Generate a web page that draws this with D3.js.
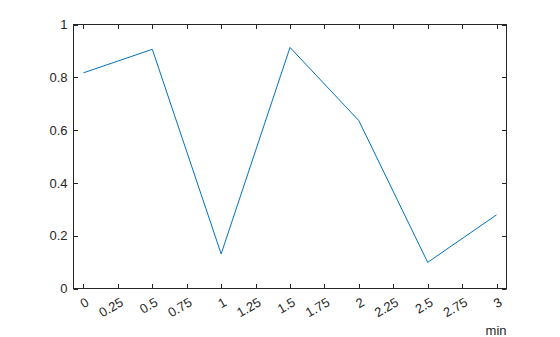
<!DOCTYPE html>
<html>
<head>
<meta charset="utf-8">
<script src="https://cdn.jsdelivr.net/npm/d3@7"></script>
<style>
  body { margin: 0; background: #fff; }
  svg { display: block; }
  text { font-family: "Liberation Sans", Helvetica, Arial, sans-serif; fill: #262626; }
</style>
</head>
<body>
<svg id="chart" width="560" height="337"></svg>
<script>
// data
var times = [0, 0.5, 1, 1.5, 2, 2.5, 3]
var values = [0.817, 0.906, 0.131, 0.913, 0.636, 0.099, 0.279]
var xTicks = [0, 0.25, 0.5, 0.75, 1, 1.25, 1.5, 1.75, 2, 2.25, 2.5, 2.75, 3]
var yTicks = [0, 0.2, 0.4, 0.6, 0.8, 1]
var xLabel = "min"

var svg = d3.select("#chart")

// note: "top" is taken by window.top, so use other names
var axLeft = 73.5, axRight = 506.5, axTop = 24.5, axBottom = 288.5
var tickLen = 4.5

// x limits are padded a little past 0 and 3, like the reference
var scaleX = d3.scaleLinear()
              .domain([-0.0725, 3.0725])
              .range([axLeft, axRight])

var scaleY = d3.scaleLinear()
              .domain([0, 1])
              .range([axBottom, axTop])

var g = svg.append("g")

// plot line
var line = d3.line()
            .x((d, i) => scaleX(times[i]))
            .y(d => scaleY(d))

g.append("path")
  .datum(values)
  .attr("d", line)
  .attr("fill", "none")
  .attr("stroke", "#0072BD")
  .attr("stroke-width", 1)

// tick marks, inward on all four sides
var ticks = g.append("g").attr("stroke", "#262626").attr("stroke-width", 1)

ticks.selectAll(".xb").data(xTicks).enter().append("line")
  .attr("x1", d => Math.round(scaleX(d)) + 0.5).attr("x2", d => Math.round(scaleX(d)) + 0.5)
  .attr("y1", axBottom).attr("y2", axBottom - tickLen)
ticks.selectAll(".xt").data(xTicks).enter().append("line")
  .attr("x1", d => Math.round(scaleX(d)) + 0.5).attr("x2", d => Math.round(scaleX(d)) + 0.5)
  .attr("y1", axTop).attr("y2", axTop + tickLen)
ticks.selectAll(".yl").data(yTicks).enter().append("line")
  .attr("y1", d => Math.round(scaleY(d)) + 0.5).attr("y2", d => Math.round(scaleY(d)) + 0.5)
  .attr("x1", axLeft).attr("x2", axLeft + tickLen)
ticks.selectAll(".yr").data(yTicks).enter().append("line")
  .attr("y1", d => Math.round(scaleY(d)) + 0.5).attr("y2", d => Math.round(scaleY(d)) + 0.5)
  .attr("x1", axRight).attr("x2", axRight - tickLen)

// box
g.append("rect")
  .attr("x", axLeft).attr("y", axTop)
  .attr("width", axRight - axLeft).attr("height", axBottom - axTop)
  .attr("fill", "none")
  .attr("stroke", "#262626")
  .attr("stroke-width", 1)

// y tick labels
g.selectAll(".ylab").data(yTicks).enter().append("text")
  .attr("x", axLeft - 6)
  .attr("y", d => scaleY(d))
  .attr("dy", "0.36em")
  .attr("text-anchor", "end")
  .attr("font-size", 13)
  .text(d => d3.format("~g")(d))

// x tick labels, rotated 30 degrees
g.selectAll(".xlab").data(xTicks).enter().append("text")
  .attr("transform", d => "translate(" + (scaleX(d) + 1.5) + "," + (axBottom + 8) + ") rotate(-30)")
  .attr("dy", "0.75em")
  .attr("text-anchor", "end")
  .attr("font-size", 13)
  .text(d => d3.format("~g")(d))

// x axis label
g.append("text")
  .attr("x", axRight)
  .attr("y", 335)
  .attr("text-anchor", "end")
  .attr("font-size", 13)
  .text(xLabel)
</script>
</body>
</html>
